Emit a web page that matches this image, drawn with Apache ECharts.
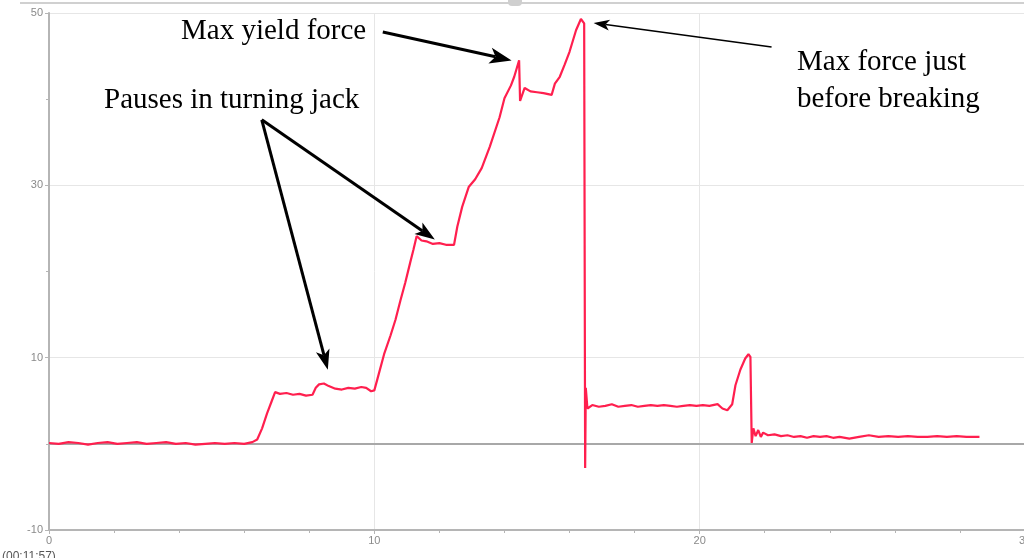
<!DOCTYPE html>
<html>
<head>
<meta charset="utf-8">
<script src="https://cdn.jsdelivr.net/npm/echarts@6/dist/echarts.min.js"></script>
<style>
html,body{margin:0;padding:0;background:#fff;}
#main{width:1024px;height:558px;}
</style>
</head>
<body>
<div id="main"></div>
<script>
// Time (x) and force (y)
var timeValues = [0.00,0.30,0.60,0.90,1.20,1.50,1.80,2.10,2.40,2.70,3.00,3.30,3.60,3.90,4.20,4.50,4.80,5.10,5.40,5.70,6.00,6.25,6.40,6.55,6.70,6.85,6.95,7.10,7.30,7.50,7.70,7.90,8.10,8.20,8.30,8.45,8.60,8.80,9.00,9.20,9.40,9.60,9.75,9.90,10.00,10.10,10.30,10.50,10.65,10.80,10.95,11.10,11.20,11.30,11.45,11.60,11.80,12.00,12.20,12.45,12.55,12.70,12.90,13.10,13.30,13.55,13.85,14.00,14.20,14.30,14.45,14.48,14.62,14.80,15.00,15.20,15.45,15.55,15.70,15.85,16.00,16.20,16.35,16.45,16.48,16.50,16.55,16.70,16.90,17.10,17.30,17.50,17.70,17.90,18.10,18.30,18.50,18.70,18.90,19.10,19.30,19.50,19.70,19.90,20.10,20.30,20.55,20.70,20.85,21.00,21.10,21.25,21.40,21.50,21.56,21.60,21.65,21.72,21.80,21.88,21.95,22.10,22.30,22.50,22.70,22.90,23.10,23.30,23.50,23.70,23.90,24.10,24.30,24.60,24.90,25.20,25.50,25.80,26.10,26.40,26.70,27.00,27.30,27.60,27.90,28.20,28.60];
var forceValues = [0.1,0.0,0.2,0.1,-0.1,0.1,0.2,0.0,0.1,0.2,0.0,0.1,0.2,0.0,0.1,-0.1,0.0,0.1,0.0,0.1,0.0,0.2,0.5,1.8,3.5,5.0,6.0,5.8,5.9,5.7,5.8,5.6,5.7,6.5,6.9,7.0,6.7,6.4,6.3,6.5,6.4,6.6,6.5,6.1,6.2,7.6,10.4,12.6,14.4,16.6,18.7,21.0,22.5,24.1,23.6,23.5,23.2,23.3,23.1,23.1,25.2,27.5,29.8,30.7,32.0,34.5,37.9,40.1,41.6,42.6,44.5,39.8,41.3,40.9,40.8,40.7,40.5,41.8,42.6,44.0,45.5,48.0,49.3,48.8,-2.8,6.5,4.1,4.5,4.3,4.4,4.6,4.3,4.4,4.5,4.3,4.4,4.5,4.4,4.5,4.4,4.3,4.4,4.5,4.4,4.5,4.4,4.6,4.1,3.9,4.6,6.8,8.6,9.9,10.4,10.1,0.1,1.8,0.9,1.6,0.8,1.3,1.0,1.1,0.9,1.0,0.8,0.9,0.7,0.9,0.8,0.9,0.7,0.8,0.6,0.8,1.0,0.8,0.9,0.8,0.9,0.8,0.8,0.9,0.8,0.9,0.8,0.8];

var xTicks = [0, 10, 20, 30];
var yTicks = [-10, 10, 30, 50];

// Annotations: text and arrows (arrow ends in data coordinates)
var labelTexts = ['Max yield force', 'Pauses in turning jack', 'Max force just', 'before breaking'];
var arrowStarts = [[10.26, 47.8], [22.21, 46.05], [6.54, 37.6], [6.54, 37.6]];
var arrowEnds = [[14.22, 44.5], [16.74, 48.84], [8.57, 8.6], [11.86, 23.7]];

var seriesData = timeValues.map(function (t, i) { return [t, forceValues[i]]; });

var chart = echarts.init(document.getElementById('main'), null, {renderer: 'canvas'});

var axisLabelStyle = {color: '#8a8a8a', fontSize: 11, fontFamily: 'Liberation Sans, Arial, sans-serif'};

chart.setOption({
  animation: false,
  backgroundColor: '#ffffff',
  grid: {left: 49, top: 13, width: 976, height: 517, containLabel: false, outerBoundsMode: 'none'},
  xAxis: {
    type: 'value', min: xTicks[0], max: xTicks[xTicks.length - 1], interval: 10,
    axisLine: {onZero: false, lineStyle: {color: '#b5b5b5', width: 2}},
    axisTick: {show: true, length: 4, lineStyle: {color: '#b5b5b5'}},
    minorTick: {show: true, splitNumber: 5, length: 3, lineStyle: {color: '#b5b5b5'}},
    axisLabel: Object.assign({margin: 5, hideOverlap: false}, axisLabelStyle),
    splitLine: {show: true, lineStyle: {color: '#e6e6e6', width: 1}}
  },
  yAxis: {
    type: 'value', min: yTicks[0], max: yTicks[yTicks.length - 1], interval: 20,
    axisLine: {show: true, onZero: false, lineStyle: {color: '#b5b5b5', width: 2}},
    axisTick: {show: true, length: 4, lineStyle: {color: '#b5b5b5'}},
    minorTick: {show: true, splitNumber: 2, length: 3, lineStyle: {color: '#b5b5b5'}},
    axisLabel: Object.assign({margin: 6}, axisLabelStyle),
    splitLine: {show: true, lineStyle: {color: '#e6e6e6', width: 1}}
  },
  series: [{
    type: 'line',
    data: seriesData,
    showSymbol: false,
    symbol: 'none',
    sampling: null,
    lineStyle: {color: '#ff1f4e', width: 2.2},
    z: 3,
    markLine: {
      silent: true, symbol: 'none', label: {show: false},
      lineStyle: {color: '#a8a8a8', width: 2, type: 'solid'},
      data: [{yAxis: 0}],
      z: 2
    }
  }]
});

function arrowGraphics(startData, endData, lineW, headL, headW) {
  var p0 = chart.convertToPixel({gridIndex: 0}, startData);
  var p1 = chart.convertToPixel({gridIndex: 0}, endData);
  var dx = p1[0] - p0[0], dy = p1[1] - p0[1];
  var len = Math.sqrt(dx * dx + dy * dy);
  var ux = dx / len, uy = dy / len;
  var px = -uy, py = ux;
  var bx = p1[0] - ux * headL, by = p1[1] - uy * headL;
  var nx = p1[0] - ux * headL * 0.75, ny = p1[1] - uy * headL * 0.75;
  return [
    {type: 'line', shape: {x1: p0[0], y1: p0[1], x2: nx, y2: ny},
     style: {stroke: '#000', lineWidth: lineW}, z: 10},
    {type: 'polygon', shape: {points: [
      [p1[0], p1[1]],
      [bx + px * headW / 2, by + py * headW / 2],
      [nx, ny],
      [bx - px * headW / 2, by - py * headW / 2]
    ]}, style: {fill: '#000'}, z: 10}
  ];
}

var textFont = '29px "Liberation Serif", "Times New Roman", serif';
var graphics = [
  {type: 'rect', shape: {x: 20, y: 2, width: 1004, height: 2}, style: {fill: '#d0d0d0'}, z: 1},
  {type: 'rect', shape: {x: 508, y: -4, width: 14, height: 10, r: 4}, style: {fill: '#cfcfcf'}, z: 1},
  {type: 'text', left: 2, top: 551, style: {text: '(00:11:57)', font: '12px "Liberation Sans", Arial, sans-serif', fill: '#555'}, z: 1},
  {type: 'text', x: 181, y: 31, style: {text: labelTexts[0], font: textFont, fill: '#000', textVerticalAlign: 'middle'}, z: 10},
  {type: 'text', x: 104, y: 100, style: {text: labelTexts[1], font: textFont, fill: '#000', textVerticalAlign: 'middle'}, z: 10},
  {type: 'text', x: 797, y: 62, style: {text: labelTexts[2], font: textFont, fill: '#000', textVerticalAlign: 'middle'}, z: 10},
  {type: 'text', x: 797, y: 99, style: {text: labelTexts[3], font: textFont, fill: '#000', textVerticalAlign: 'middle'}, z: 10}
];
graphics = graphics.concat(arrowGraphics(arrowStarts[0], arrowEnds[0], 3, 22, 16));
graphics = graphics.concat(arrowGraphics(arrowStarts[1], arrowEnds[1], 1.5, 16, 11));
graphics = graphics.concat(arrowGraphics(arrowStarts[2], arrowEnds[2], 3, 20, 14));
graphics = graphics.concat(arrowGraphics(arrowStarts[3], arrowEnds[3], 3, 20, 14));

chart.setOption({graphic: graphics});
</script>
</body>
</html>
